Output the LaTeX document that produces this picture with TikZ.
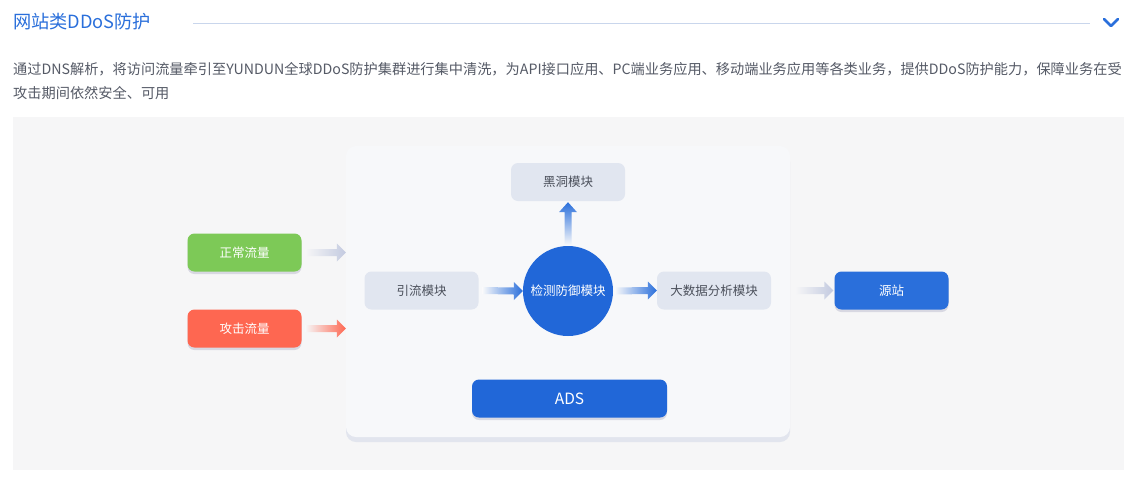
\documentclass[tikz,border=0pt]{standalone}
\usepackage{fontspec}
\setmainfont{Noto Sans CJK SC}
\usetikzlibrary{positioning,calc,shadows}
\definecolor{primary}{HTML}{2A6FDB}
\definecolor{deepblue}{HTML}{2167D8}
\definecolor{panelgrey}{HTML}{F6F6F7}
\definecolor{boxwhite}{HTML}{F7F8FA}
\definecolor{boxshadow}{HTML}{E2E5EE}
\definecolor{modfill}{HTML}{E1E6F0}
\definecolor{modtext}{HTML}{4A4F5A}
\definecolor{bodytext}{HTML}{555A66}
\definecolor{okgreen}{HTML}{7DC957}
\definecolor{hotred}{HTML}{FE6751}
\definecolor{softarrow}{HTML}{C3CAE0}
\definecolor{rule}{HTML}{C9D6EC}
% horizontal shaded arrow: from, to, light colour, dark colour
\newcommand{\flowright}[4]{%
  \shade[left color=#3,right color=#4] ($(#1)+(0,-3.5)$) -- ($(#2)+(-9,-3.5)$)
    -- ($(#2)+(-9,-9)$) -- (#2) -- ($(#2)+(-9,9)$) -- ($(#2)+(-9,3.5)$)
    -- ($(#1)+(0,3.5)$) -- cycle;}

\begin{document}
\begin{tikzpicture}[x=1pt,y=-1pt,
  modbox/.style={rectangle,rounded corners=7pt,fill=modfill,text=modtext,
    minimum width=114pt,minimum height=38pt,inner sep=0pt,
    font=\fontsize{12.5}{14}\selectfont},
  flowbox/.style={modbox,text=white,
    drop shadow={shadow xshift=0pt,shadow yshift=-2.5pt,fill=black!70!blue,opacity=0.12}}]
\useasboundingbox (0,0) rectangle (1139,493);
\fill[white] (0,0) rectangle (1139,493);
% heading
\node[anchor=west,inner sep=0pt,text=primary,font=\fontsize{18.2}{21}\selectfont] (title) at (13,22) {网站类DDoS防护};
\coordinate (ruleL) at (193,23);
\coordinate (ruleR) at (1090,23);
\draw[rule,line width=0.8pt] (ruleL) -- (ruleR);
\draw[primary,line width=2.6pt,line cap=round,line join=round] (1104,19) -- (1111,26) -- (1118,19);
\node[anchor=west,inner sep=0pt,text=bodytext,font=\fontsize{14.2}{16}\selectfont] (line1) at (13,69)
  {通过DNS解析，将访问流量牵引至YUNDUN全球DDoS防护集群进行集中清洗，为API接口应用、PC端业务应用、移动端业务应用等各类业务，提供DDoS防护能力，保障业务在受};
\node[anchor=west,inner sep=0pt,text=bodytext,font=\fontsize{14.2}{16}\selectfont] (line2) at (13,93)
  {攻击期间依然安全、可用};
% diagram panel
\fill[panelgrey] (13,117) rectangle (1124,470);
\fill[boxshadow,rounded corners=10pt] (346,152) rectangle (790,442);
\node[rectangle,rounded corners=10pt,fill=boxwhite,minimum width=444pt,minimum height=291pt,inner sep=0pt] (cluster) at (568,291.5) {};
% modules
\node[modbox] (blackhole) at (568,182) {黑洞模块};
\node[circle,fill=deepblue,minimum size=90pt,inner sep=0pt,text=white,font=\fontsize{12.5}{14}\selectfont] (detect) at (568,291) {检测防御模块};
\node[modbox] (divert) at (421.5,290.5) {引流模块};
\node[modbox] (bigdata) at (714,290.5) {大数据分析模块};
\node[flowbox,fill=primary] (origin) at (891.5,290.5) {源站};
\node[flowbox,fill=deepblue,minimum width=195pt,font=\fontsize{15.5}{18}\selectfont] (ads) at (569.5,398.5) {ADS};
\node[flowbox,fill=okgreen] (normal) at (244.5,252.5) {正常流量};
\node[flowbox,fill=hotred] (attack) at (244.5,328.5) {攻击流量};
% flows
\coordinate (n0) at ($(normal.east)+(4,0)$);
\coordinate (a0) at ($(attack.east)+(4,0)$);
\flowright{n0}{cluster.west |- normal.east}{panelgrey}{softarrow}
\flowright{a0}{cluster.west |- attack.east}{panelgrey}{hotred}
\flowright{$(divert.east)+(4,0)$}{detect.west}{boxwhite}{primary}
\flowright{$(detect.east)+(2,0)$}{bigdata.west}{boxwhite}{primary}
\flowright{$(cluster.east |- origin.west)+(5,0)$}{$(origin.west)+(-1,0)$}{panelgrey}{softarrow}
\shade[bottom color=boxwhite,top color=primary] ($(detect.north)+(-3.5,-1)$) -- ($(blackhole.south)+(-3.5,11)$)
  -- ($(blackhole.south)+(-9,11)$) -- ($(blackhole.south)+(0,1)$) -- ($(blackhole.south)+(9,11)$)
  -- ($(blackhole.south)+(3.5,11)$) -- ($(detect.north)+(3.5,-1)$) -- cycle;
\end{tikzpicture}
\end{document}
